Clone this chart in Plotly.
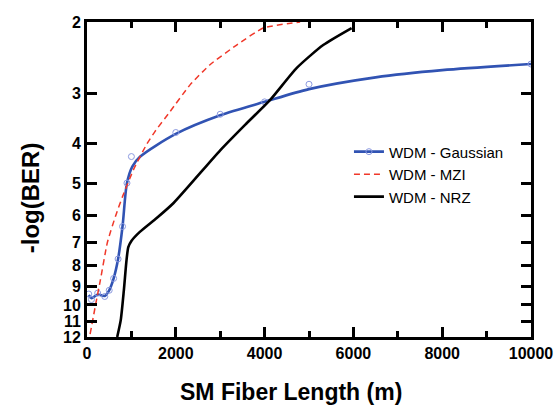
import plotly.graph_objects as go
import numpy as np

# ---- data ----
gauss_x = [40, 100, 240, 400, 500, 600, 700, 800, 900, 1000, 2000, 3000, 4000, 5000, 10000]
gauss_y = [9.4, 9.7, 9.35, 9.53, 9.2, 8.6, 7.7, 6.4, 5.0, 4.3, 3.75, 3.38, 3.15, 2.85, 2.54]

gauss_fit_x = [40, 100, 240, 400, 500, 600, 700, 800, 900, 1020, 1200, 2000, 3000, 4000, 5000, 6500, 8000, 10000]
gauss_fit_y = [9.45, 9.62, 9.42, 9.5, 9.2, 8.6, 7.7, 6.4, 5.0, 4.55, 4.3, 3.78, 3.4, 3.15, 2.93, 2.74, 2.63, 2.54]

mzi_x = [70, 200, 300, 460, 650, 800, 1060, 1350, 1530, 1870, 2320, 2770, 3370, 3970, 4800]
mzi_y = [11.8, 9.9, 8.7, 7.0, 6.0, 5.4, 4.6, 4.0, 3.73, 3.33, 2.86, 2.55, 2.28, 2.07, 2.0]

nrz_x = [680, 760, 830, 890, 930, 1000, 1190, 1570, 1950, 3000, 3560, 4120, 4720, 5320, 5960]
nrz_y = [12, 10.9, 9.2, 7.75, 7.2, 6.95, 6.6, 6.1, 5.6, 4.15, 3.59, 3.12, 2.60, 2.28, 2.07]

y_ticks = [2, 3, 4, 5, 6, 7, 8, 9, 10, 11, 12]
x_ticks = [0, 2000, 4000, 6000, 8000, 10000]

names = ["WDM - Gaussian", "WDM - MZI", "WDM - NRZ"]

BLUE = "#3153b3"
RED = "#f0382a"
MARK = "#8c9ae0"

fig = go.Figure()

# fitted Gaussian curve
fig.add_trace(go.Scatter(x=gauss_fit_x, y=gauss_fit_y, mode="lines",
                         line=dict(color=BLUE, width=2.6, shape="spline", smoothing=0.8),
                         showlegend=False, hoverinfo="skip"))
# Gaussian data points
fig.add_trace(go.Scatter(x=gauss_x, y=gauss_y, mode="markers",
                         marker=dict(symbol="circle-open", size=6, color=MARK, line=dict(width=1)),
                         showlegend=False))
# MZI
fig.add_trace(go.Scatter(x=mzi_x, y=mzi_y, mode="lines",
                         line=dict(color=RED, width=1.5, dash="6px,4px", shape="spline", smoothing=0.5),
                         showlegend=False))
# NRZ
fig.add_trace(go.Scatter(x=nrz_x, y=nrz_y, mode="lines",
                         line=dict(color="black", width=2.6, shape="spline", smoothing=0.6),
                         showlegend=False))

# legend entries
fig.add_trace(go.Scatter(x=[None], y=[None], mode="lines+markers", name=names[0],
                         line=dict(color=BLUE, width=2.6),
                         marker=dict(symbol="circle-open", size=6, color=MARK, line=dict(width=1))))
fig.add_trace(go.Scatter(x=[None], y=[None], mode="lines", name=names[1],
                         line=dict(color=RED, width=1.5, dash="6px,4px")))
fig.add_trace(go.Scatter(x=[None], y=[None], mode="lines", name=names[2],
                         line=dict(color="black", width=2.6)))

tickfont = dict(family="Liberation Sans, Arial, sans-serif", size=16, color="black", weight="bold")

fig.update_xaxes(range=[0, 10000], tickvals=x_ticks, ticktext=[str(v) for v in x_ticks],
                 ticks="inside", ticklen=10, tickwidth=3, tickcolor="black",
                 minor=dict(ticks="inside", dtick=1000, tick0=0, ticklen=6, tickwidth=3, tickcolor="black"),
                 showline=True, linewidth=3, linecolor="black", mirror="ticks",
                 showgrid=False, zeroline=False, tickfont=tickfont, automargin=False)
fig.update_yaxes(type="log", range=[np.log10(12), np.log10(2)],
                 tickvals=y_ticks, ticktext=[str(v) for v in y_ticks],
                 ticks="inside", ticklen=10, tickwidth=3, tickcolor="black",
                 showline=True, linewidth=3, linecolor="black", mirror="ticks",
                 showgrid=False, zeroline=False, tickfont=tickfont, automargin=False)

fig.update_layout(
    width=556, height=408,
    margin=dict(l=87, r=25, t=22, b=71, autoexpand=False),
    paper_bgcolor="white", plot_bgcolor="white",
    font=dict(family="Liberation Sans, Arial, sans-serif", color="black"),
    legend=dict(x=0.59, y=0.64, xanchor="left", yanchor="top",
                bgcolor="rgba(0,0,0,0)", font=dict(size=15, color="black"),
                tracegroupgap=0),
    annotations=[
        dict(text="SM Fiber Length (m)", xref="paper", yref="paper", x=0.459, y=-0.175,
             xanchor="center", yanchor="middle", showarrow=False,
             font=dict(size=23, weight="bold", color="black")),
        dict(text="-log(BER)", xref="paper", yref="paper", x=-0.128, y=0.441,
             xanchor="center", yanchor="middle", textangle=-90, showarrow=False,
             font=dict(size=24, weight="bold", color="black")),
    ],
)

fig.write_html("out.html", config={"displayModeBar": False},
               post_script="document.body.style.margin='0';document.body.style.overflow='hidden';")
